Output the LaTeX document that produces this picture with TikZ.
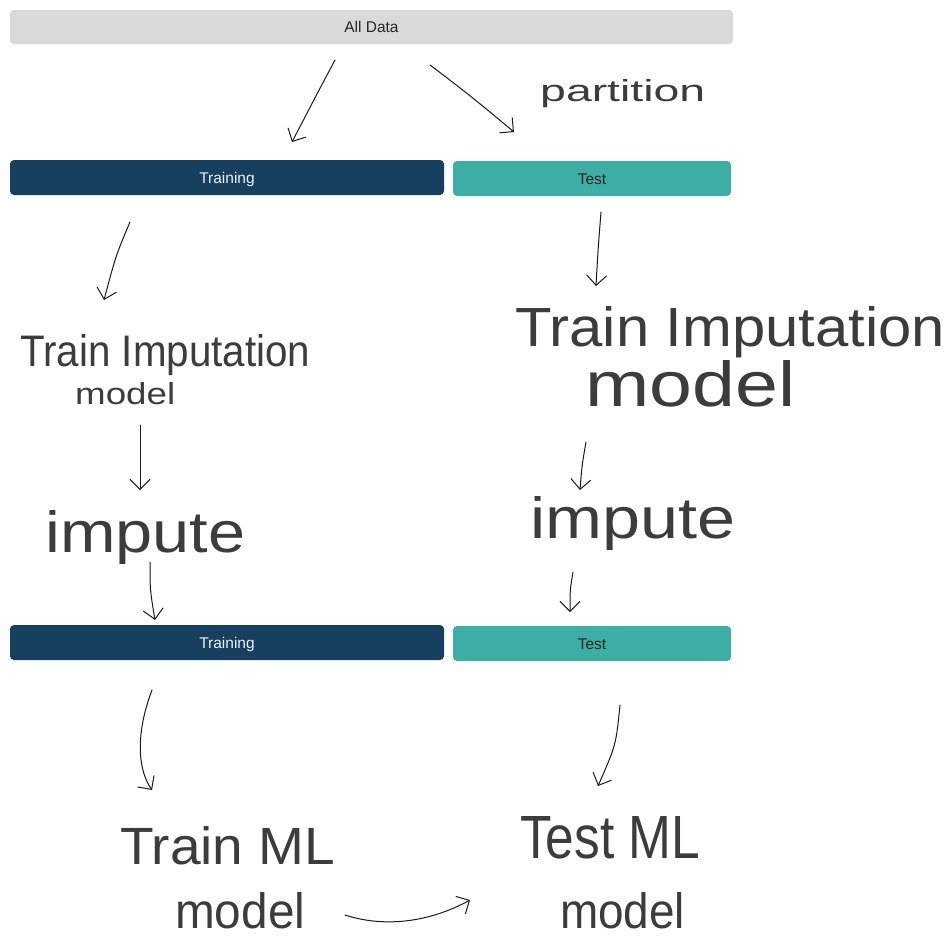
\documentclass[tikz,border=0pt]{standalone}
\usepackage{fontspec}
\setmainfont{Liberation Sans}
\usetikzlibrary{arrows.meta}
\definecolor{mynavy}{HTML}{173F5F}
\definecolor{myteal}{HTML}{3CAEA3}
\definecolor{mygray}{HTML}{D9D9D9}
\definecolor{ink}{HTML}{1A1A1A}
\tikzset{
  bar/.style={rounded corners=4pt, inner sep=0pt, minimum height=35pt, text height=11pt, text depth=0pt, font=\fontsize{15.5}{17}\selectfont},
  trainbar/.style={bar, fill=mynavy, text=white!92!mynavy, minimum width=434pt},
  testbar/.style={bar, fill=myteal, text=black!85, minimum width=278pt},
  hand/.style={inner sep=0pt, anchor=base west, text=ink!85},
  stroke/.style={draw=ink, line width=1pt, line cap=round, -{Straight Barb[length=10pt,width=20pt,line width=1pt]}}
}
\newcommand{\hw}[3]{\resizebox{#1pt}{#2pt}{#3}}
\begin{document}
\begin{tikzpicture}[x=1pt,y=-1pt]
\useasboundingbox[fill=white] (0,0) rectangle (951,938);
% bars
\node[bar, fill=mygray, text=black!85, minimum width=723pt, minimum height=34pt] (all) at (371.5,27) {All Data};
\node[trainbar] (train1) at (227,177.5) {Training};
\node[testbar] (test1) at (592,178.5) {Test};
\node[trainbar] (train2) at (227,642.5) {Training};
\node[testbar] (test2) at (592,643.5) {Test};
% handwritten labels
\node[hand] (part) at (540,101) {\hw{165}{22}{partition}};
\node[hand] (lti) at (20,366) {\hw{290}{32}{Train Imputation}};
\node[hand] (lm) at (75,404) {\hw{100}{22}{model}};
\node[hand] (rti) at (515,346) {\hw{430}{40}{Train Imputation}};
\node[hand] (rm) at (585,406) {\hw{210}{46}{model}};
\node[hand] (limp) at (45,552) {\hw{200}{42}{impute}};
\node[hand] (rimp) at (530,538) {\hw{205}{42}{impute}};
\node[hand] (tml) at (120,864) {\hw{215}{38}{Train ML}};
\node[hand] (lmod) at (175,928) {\hw{130}{36}{model}};
\node[hand] (xml) at (520,858) {\hw{180}{42}{Test ML}};
\node[hand] (rmod) at (560,928) {\hw{125}{36}{model}};
% stroke end points
\coordinate (a1s) at (335,60); \coordinate (a1e) at (292,142);
\coordinate (a2s) at (430,65); \coordinate (a2e) at (514,132);
\coordinate (a3s) at (130,222); \coordinate (a3e) at (104,300);
\coordinate (a4s) at (601,212); \coordinate (a4e) at (596,286);
\coordinate (a5s) at (140,425); \coordinate (a5e) at (140,490);
\coordinate (a6s) at (586,442); \coordinate (a6e) at (580,490);
\coordinate (a7s) at (150,562); \coordinate (a7e) at (155,620);
\coordinate (a8s) at (573,572); \coordinate (a8e) at (570,612);
\coordinate (a9s) at (152,690); \coordinate (a9e) at (152,790);
\coordinate (a10s) at (620,705); \coordinate (a10e) at (598,786);
\coordinate (a11s) at (345,915); \coordinate (a11e) at (470,900);
% strokes
\draw[stroke] (a1s) .. controls (318,92) .. (a1e);
\draw[stroke] (a2s) .. controls (470,95) and (490,112) .. (a2e);
\draw[stroke] (a3s) .. controls (116,255) .. (a3e);
\draw[stroke] (a4s) .. controls (598,250) .. (a4e);
\draw[stroke] (a5s) -- (a5e);
\draw[stroke] (a6s) .. controls (582,465) .. (a6e);
\draw[stroke] (a7s) .. controls (150,590) .. (a7e);
\draw[stroke] (a8s) .. controls (570,590) .. (a8e);
\draw[stroke] (a9s) .. controls (135,735) and (138,770) .. (a9e);
\draw[stroke] (a10s) .. controls (616,745) .. (a10e);
\draw[stroke] (a11s) .. controls (385,928) and (430,922) .. (a11e);
\end{tikzpicture}
\end{document}
